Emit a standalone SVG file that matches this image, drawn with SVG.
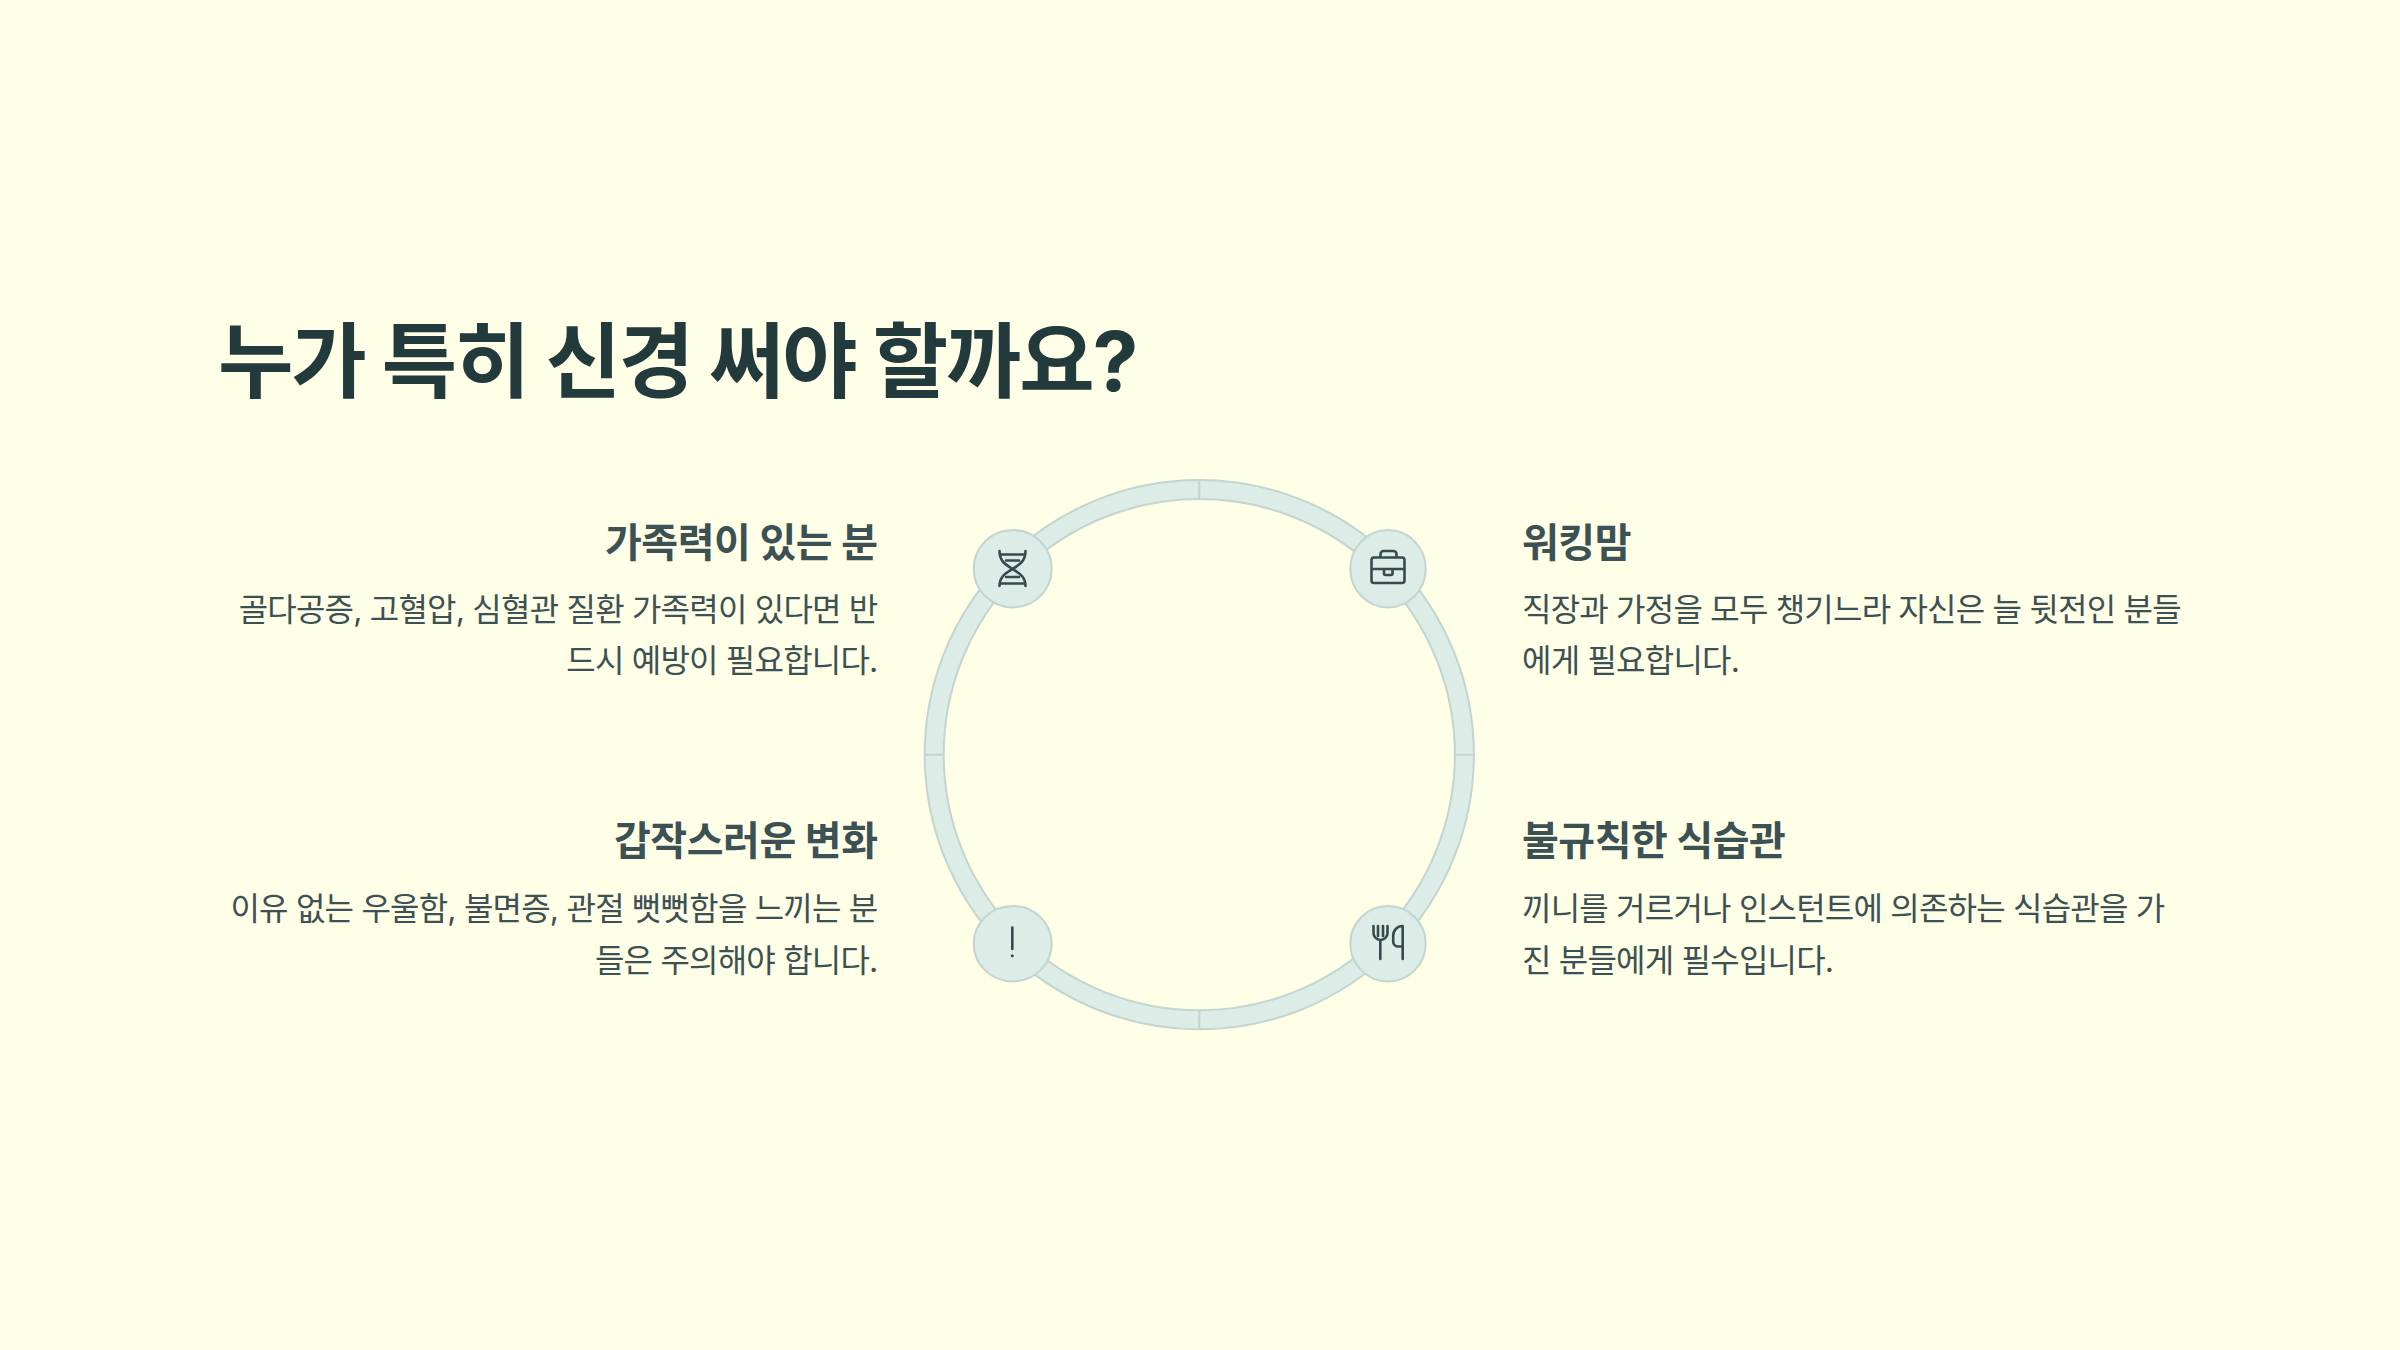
<svg xmlns="http://www.w3.org/2000/svg" width="2400" height="1350" viewBox="0 0 2400 1350">
<style>
text{font-family:"Inter","Noto Sans CJK KR",sans-serif}
.title{font-size:82px;font-weight:700;fill:#223a3b;letter-spacing:-2.2px}
.h{font-size:40px;font-weight:700;fill:#3c5153;letter-spacing:-0.45px}
.b{font-size:32px;font-weight:400;fill:#3c5153;letter-spacing:-0.8px}
.r{text-anchor:end}
.ring{fill:#dcece6;stroke:#c3d5cf;stroke-width:2}
.tick{stroke:#c3d5cf;stroke-width:2;fill:none}
.node{fill:#dcece6;stroke:#c3d5cf;stroke-width:2}
.ic{fill:none;stroke:#354b4d;stroke-width:2.6;stroke-linecap:round;stroke-linejoin:round}
</style>
<rect width="2400" height="1350" fill="#fffee6"/>
<text class="title" x="218" y="391">누가 특히 신경 써야 할까요?</text>
<g id="connectors">
<path class="ring" fill-rule="evenodd" d="M924.700 754.700a274.600 274.600 0 1 0 549.200 0a274.600 274.600 0 1 0 -549.200 0ZM943.700 754.700a255.600 255.600 0 1 1 511.200 0a255.600 255.600 0 1 1 -511.200 0Z"/>
<path class="tick" d="M1199.300 480V499M1199.300 1010V1029M925 754.700H944M1455 754.700H1474"/>
</g>
<g id="node-family">
<ellipse class="node" cx="1012.700" cy="568.700" rx="39" ry="38.700"/>
<path class="ic" d="M999.500 551c0 11 7 14 13 18s13 7 13 17M1025.500 551c0 11-7 14-13 18s-13 7-13 17M1001 554.500h23M1006 560.500h13M1006 577h13M1001 583.500h23"/>
<text class="h r" x="877.500" y="557">가족력이 있는 분</text>
<text class="b r" x="877.500" y="621">골다공증, 고혈압, 심혈관 질환 가족력이 있다면 반</text>
<text class="b r" x="877.500" y="672">드시 예방이 필요합니다.</text>
</g>
<g id="node-mom">
<ellipse class="node" cx="1388" cy="568.700" rx="37.700" ry="38.700"/>
<path class="ic" d="M1380.500 557.500v-3.500a3 3 0 0 1 3-3h10a3 3 0 0 1 3 3v3.500M1374 557.500h28a2.500 2.500 0 0 1 2.500 2.500v20.500a2.500 2.500 0 0 1-2.500 2.500h-28a2.500 2.500 0 0 1-2.500-2.500v-20.500a2.500 2.500 0 0 1 2.500-2.500ZM1371.500 569h33M1384 570v3.500a1.500 1.500 0 0 0 1.500 1.500h5.500a1.500 1.500 0 0 0 1.500-1.500v-3.500"/>
<text class="h" x="1522" y="557">워킹맘</text>
<text class="b" x="1522" y="621">직장과 가정을 모두 챙기느라 자신은 늘 뒷전인 분들</text>
<text class="b" x="1522" y="672">에게 필요합니다.</text>
</g>
<g id="node-change">
<ellipse class="node" cx="1012.700" cy="943.700" rx="39" ry="37.700"/>
<path class="ic" d="M1012.300 927.500v21.500"/>
<circle cx="1012.300" cy="955.700" r="1.500" fill="#354b4d"/>
<text class="h r" x="877.500" y="855">갑작스러운 변화</text>
<text class="b r" x="877.500" y="920">이유 없는 우울함, 불면증, 관절 뻣뻣함을 느끼는 분</text>
<text class="b r" x="877.500" y="972">들은 주의해야 합니다.</text>
</g>
<g id="node-diet">
<ellipse class="node" cx="1388" cy="943.700" rx="37.700" ry="37.700"/>
<path class="ic" d="M1373.500 926v7a7 7 0 0 0 14 0v-7M1378 926v10M1383 926v10M1380.300 940v19M1402.700 926v33M1402.700 926a9.500 9.500 0 0 0-9.500 9.500v6a5 5 0 0 0 5 5h4.500"/>
<text class="h" x="1522" y="855">불규칙한 식습관</text>
<text class="b" x="1522" y="920">끼니를 거르거나 인스턴트에 의존하는 식습관을 가</text>
<text class="b" x="1522" y="972">진 분들에게 필수입니다.</text>
</g>
</svg>
